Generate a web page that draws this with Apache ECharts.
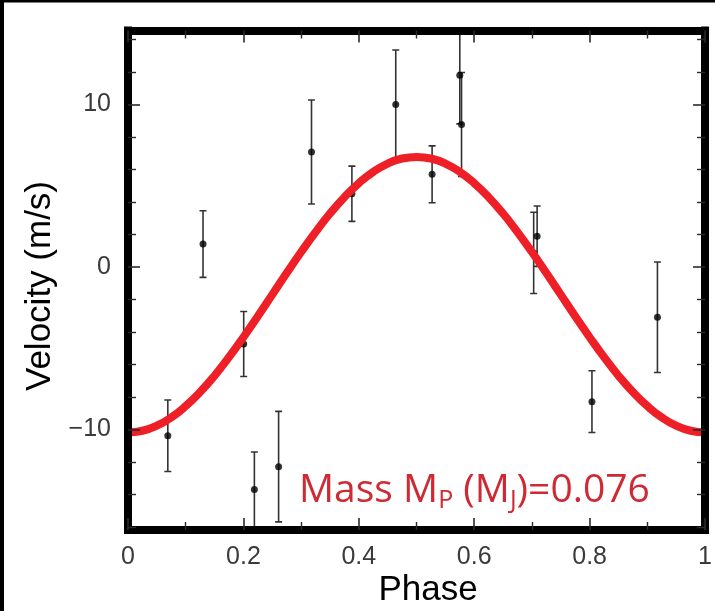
<!DOCTYPE html>
<html>
<head>
<meta charset="utf-8">
<script src="https://cdn.jsdelivr.net/npm/echarts@6/dist/echarts.min.js"></script>
<style>html,body{margin:0;padding:0;background:#fff}#c{width:715px;height:611px}</style>
</head>
<body>
<div id="c"></div>
<script>
// observed radial-velocity points
var phase = [0.069, 0.130, 0.2005, 0.219, 0.261, 0.318, 0.388, 0.464, 0.527, 0.575, 0.578, 0.703, 0.709, 0.804, 0.9175];
var velocity = [-10.4, 1.4, -4.75, -13.7, -12.3, 7.07, 4.5, 10.0, 5.7, 11.8, 8.76, 0.86, 1.89, -8.3, -3.1];
var errors = [2.2, 2.05, 2.0, 2.3, 3.4, 3.2, 1.7, 3.35, 1.75, 3.0, 3.2, 2.5, 1.86, 1.9, 3.4];
// fitted curve
var curvePhase = [0,0.025,0.05,0.075,0.1,0.125,0.15,0.175,0.2,0.225,0.25,0.275,0.3,0.325,0.35,0.375,0.4,0.425,0.45,0.475,0.5,
  0.525,0.55,0.575,0.6,0.625,0.65,0.675,0.7,0.725,0.75,0.775,0.8,0.825,0.85,0.875,0.9,0.925,0.95,0.975,1.0];
var curveVelocity = [-10.19,-10.09,-9.78,-9.27,-8.57,-7.71,-6.70,-5.56,-4.33,-3.04,-1.71,-0.38,0.91,2.14,3.28,4.29,5.15,5.85,6.36,6.67,6.77,
  6.67,6.36,5.85,5.15,4.29,3.28,2.14,0.91,-0.38,-1.71,-3.04,-4.33,-5.56,-6.70,-7.71,-8.57,-9.27,-9.78,-10.09,-10.19];
// axis ticks
var yLabelTicks = [-10, 0, 10];
var yMinorTicks = [-16,-14,-12,-8,-6,-4,-2,2,4,6,8,12,14];

var chart = echarts.init(document.getElementById('c'), null, {renderer: 'canvas'});

var errData = phase.map(function (p, i) {
  return [p, velocity[i], velocity[i] - errors[i], velocity[i] + errors[i]];
});
var dotData = phase.map(function (p, i) { return [p, velocity[i]]; });
var curveData = curvePhase.map(function (p, i) { return [p, curveVelocity[i]]; });

var YMIN = -16.2, YMAX = 14.55;
var tickColor = '#2a2a2a';
var labelFont = {fontFamily: 'Liberation Sans', fontSize: 25, color: '#3a3a3a'};
var frameLine = {show: true, onZero: false, lineStyle: {color: '#000', width: 8, cap: 'square'}};
var noLine = {show: false, onZero: false};

function xAx(pos, showLabel) {
  return {
    type: 'value', position: pos, min: 0, max: 1, interval: 0.2, z: 10,
    axisLine: frameLine,
    axisTick: {show: true, inside: true, length: 12, lineStyle: {color: tickColor, width: 1.6}},
    minorTick: {show: true, splitNumber: 2, length: 8, lineStyle: {color: tickColor, width: 1.4}},
    splitLine: {show: false}, minorSplitLine: {show: false},
    axisLabel: Object.assign({show: showLabel, margin: 15}, labelFont)
  };
}
function yAx(pos, major, showLabel) {
  return {
    type: 'value', position: pos, min: YMIN, max: YMAX, z: 10,
    axisLine: major ? frameLine : noLine,
    axisTick: {show: true, inside: true, length: major ? 12 : 8,
      customValues: major ? yLabelTicks : yMinorTicks,
      lineStyle: {color: tickColor, width: major ? 1.6 : 1.4}},
    splitLine: {show: false},
    axisLabel: Object.assign({show: showLabel, margin: 17, customValues: yLabelTicks,
      formatter: function (v) { return v < 0 ? '\u2212' + Math.abs(v) : String(v); }}, labelFont)
  };
}

var option = {
  animation: false,
  backgroundColor: '#fff',
  grid: {left: 128, right: 4, top: 30.5, bottom: 81, show: false},
  xAxis: [xAx('bottom', true), xAx('top', false)],
  yAxis: [yAx('left', true, true), yAx('left', false, false), yAx('right', true, false), yAx('right', false, false)],
  series: [
    {
      type: 'custom', xAxisIndex: 0, yAxisIndex: 0, clip: true, z: 2,
      data: errData,
      renderItem: function (params, api) {
        var x = api.value(0);
        var top = api.coord([x, api.value(3)]);
        var bot = api.coord([x, api.value(2)]);
        var w = 3.5;
        var st = {stroke: '#333', lineWidth: 1.6};
        return {type: 'group', children: [
          {type: 'line', shape: {x1: top[0], y1: top[1], x2: bot[0], y2: bot[1]}, style: st},
          {type: 'line', shape: {x1: top[0] - w, y1: top[1], x2: top[0] + w, y2: top[1]}, style: st},
          {type: 'line', shape: {x1: bot[0] - w, y1: bot[1], x2: bot[0] + w, y2: bot[1]}, style: st}
        ]};
      }
    },
    {
      type: 'scatter', xAxisIndex: 0, yAxisIndex: 0, z: 3,
      data: dotData, symbol: 'circle', symbolSize: 7,
      itemStyle: {color: '#000'}
    },
    {
      type: 'line', xAxisIndex: 0, yAxisIndex: 0, z: 5,
      data: curveData, smooth: true, showSymbol: false, symbol: 'none', clip: true,
      lineStyle: {color: '#ee1f26', width: 8}
    }
  ],
  graphic: [
    {type: 'rect', left: 0, top: 0, shape: {width: 4, height: 611}, style: {fill: '#000'}, z: 100},
    {type: 'rect', left: 0, top: 0, shape: {width: 715, height: 2.5}, style: {fill: '#000'}, z: 100},
    {type: 'text', x: 40, y: 286, rotation: Math.PI / 2,
      style: {text: 'Velocity (m/s)', fontFamily: 'Liberation Sans', fontSize: 35, fill: '#000',
        textAlign: 'center', textVerticalAlign: 'middle'}, z: 50},
    {type: 'text', x: 428, y: 590,
      style: {text: 'Phase', fontFamily: 'Liberation Sans', fontSize: 35, fill: '#000',
        textAlign: 'center', textVerticalAlign: 'middle'}, z: 50},
    {type: 'text', x: 299, y: 491, z: 60,
      style: {
        text: '{a|Mass M}{s|P}{a| (M}{s|J}{a|)=0.076}',
        textAlign: 'left', textVerticalAlign: 'middle',
        rich: {
          a: {fontFamily: 'Open Sans', fontSize: 39, fill: '#cf2a33', color: '#cf2a33', lineHeight: 44, verticalAlign: 'middle'},
          s: {fontFamily: 'Open Sans', fontSize: 25, fill: '#cf2a33', color: '#cf2a33', lineHeight: 20, verticalAlign: 'bottom'}
        }
      }}
  ]
};
chart.setOption(option);
</script>
</body>
</html>
